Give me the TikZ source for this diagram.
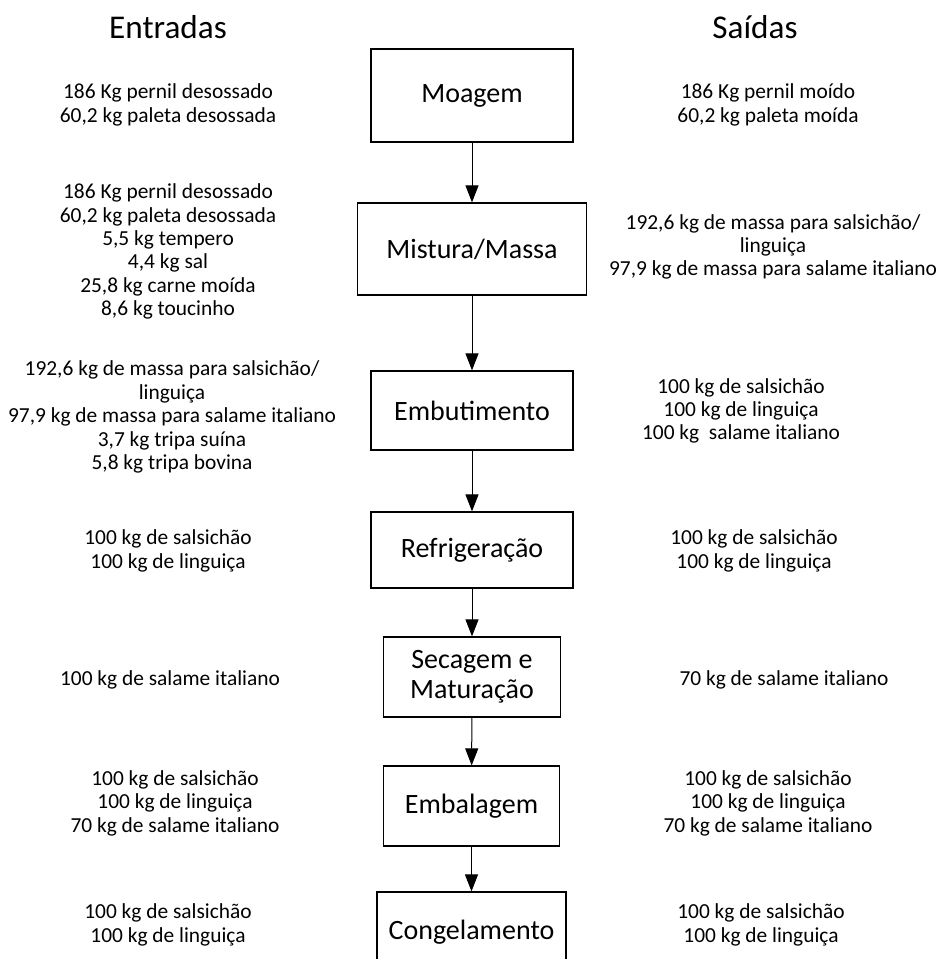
\documentclass[tikz,border=0pt]{standalone}
\usepackage{fontspec}
\setmainfont{Carlito}
\usetikzlibrary{arrows.meta}

\begin{document}
\begin{tikzpicture}[
	x=0.5pt, y=-0.5pt,
	etapa/.style={draw, line width=0.6pt, inner sep=0pt, align=center,
		font=\fontsize{14}{15}\selectfont},
	fluxo/.style={inner sep=0pt, align=center, font=\fontsize{10.7}{11.7}\selectfont},
	titulo/.style={inner sep=0pt, font=\fontsize{16.6}{18}\selectfont},
	seta/.style={-{Triangle[length=8.5pt, width=6.5pt]}, line width=0.5pt},
	]
	%frame
	\useasboundingbox (0,0) rectangle (940,966);
	\clip (0,0) rectangle (940,958);
	
	%titles
	\node[titulo] (entradas) at (168,27) {Entradas};
	\node[titulo] (saidas) at (755,27) {Saídas};
	
	%steps
	\node[etapa, minimum width=101pt, minimum height=46.5pt] (moagem) at (472,95.5) {Moagem};
	\node[etapa, minimum width=114.5pt, minimum height=46pt] (mistura) at (472,249) {Mistura/Massa};
	\node[etapa, minimum width=101pt, minimum height=39.5pt] (embutimento) at (472,410.5) {Embutimento};
	\node[etapa, minimum width=101pt, minimum height=38pt] (refrigeracao) at (472,550) {Refrigeração};
	\node[etapa, minimum width=88.5pt, minimum height=40pt] (secagem) at (472,677) {Secagem e\\Maturação};
	\node[etapa, minimum width=88pt, minimum height=40pt] (embalagem) at (471.5,806) {Embalagem};
	\node[etapa, minimum width=94.5pt, minimum height=40pt] (congelamento) at (471.5,932) {Congelamento};
	
	%arrows
	\draw[seta] (moagem) -- (mistura);
	\draw[seta] (mistura) -- (embutimento);
	\draw[seta] (embutimento) -- (refrigeracao);
	\draw[seta] (refrigeracao) -- (secagem);
	\draw[seta] (secagem) -- (embalagem);
	\draw[seta] (embalagem) -- (congelamento);
	
	%inputs
	\node[fluxo] (e1) at (168,105) {186 Kg pernil desossado\\60,2 kg paleta desossada};
	\node[fluxo] (e2) at (168,251.5) {186 Kg pernil desossado\\60,2 kg paleta desossada\\5,5 kg tempero\\4,4 kg sal\\25,8 kg carne moída\\8,6 kg toucinho};
	\node[fluxo] (e3) at (172,417) {192,6 kg de massa para salsichão/\\linguiça\\97,9 kg de massa para salame italiano\\3,7 kg tripa suína\\5,8 kg tripa bovina};
	\node[fluxo] (e4) at (168,551) {100 kg de salsichão\\100 kg de linguiça};
	\node[fluxo] (e5) at (170,680) {100 kg de salame italiano};
	\node[fluxo] (e6) at (175,803) {100 kg de salsichão\\100 kg de linguiça\\70 kg de salame italiano};
	\node[fluxo] (e7) at (168,925) {100 kg de salsichão\\100 kg de linguiça};
	
	%outputs
	\node[fluxo] (s1) at (768,105) {186 Kg pernil moído\\60,2 kg paleta moída};
	\node[fluxo] (s2) at (773,247) {192,6 kg de massa para salsichão/\\linguiça\\97,9 kg de massa para salame italiano};
	\node[fluxo] (s3) at (741,411) {100 kg de salsichão\\100 kg de linguiça\\100 kg~ salame italiano};
	\node[fluxo] (s4) at (754,551) {100 kg de salsichão\\100 kg de linguiça};
	\node[fluxo] (s5) at (784,680) {70 kg de salame italiano};
	\node[fluxo] (s6) at (768,803) {100 kg de salsichão\\100 kg de linguiça\\70 kg de salame italiano};
	\node[fluxo] (s7) at (761,925) {100 kg de salsichão\\100 kg de linguiça};
\end{tikzpicture}
\end{document}
